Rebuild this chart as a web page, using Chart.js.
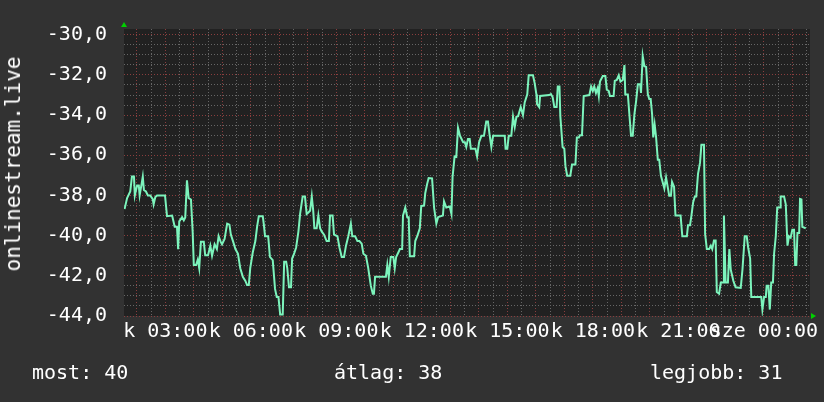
<!DOCTYPE html>
<html>
<head>
<meta charset="utf-8">
<script src="https://cdn.jsdelivr.net/npm/chart.js@4.4.1/dist/chart.umd.min.js"></script>
<style>
    html, body { margin: 0; padding: 0; background: #323232; }
    #wrap { position: relative; width: 824px; height: 402px; background: #323232; overflow: hidden; }
    #graph { position: absolute; left: 0; top: 0; }
    .stat { position: absolute; top: 360px; color: #fff; font-family: 'DejaVu Sans Mono', monospace; font-size: 20px; white-space: pre; }
    #ytitle {
        position: absolute; left: 13px; top: 164px;
        transform: translate(-50%, -50%) rotate(-90deg);
        color: #fff; font-family: 'DejaVu Sans Mono', monospace; font-size: 21px;
        white-space: pre; line-height: 24px;
    }
</style>
</head>
<body>
<div id="wrap">
    <canvas id="graph" width="824" height="402"></canvas>
    <div id="ytitle">onlinestream.live</div>
    <div class="stat" style="left:32px">most: 40</div>
    <div class="stat" style="left:334px">átlag: 38</div>
    <div class="stat" style="left:650px">legjobb: 31</div>
</div>
<script>
// hours since 00:00 on "k" (values past 24 are on "sze")
const times = [
    1.57,1.66,1.77,1.83,1.90,1.93,2.01,2.07,2.10,2.16,2.21,2.25,2.32,2.39,2.47,2.56,
    2.59,2.65,2.71,2.99,3.06,3.24,3.33,3.41,3.45,3.49,3.59,3.65,3.70,3.76,3.82,3.90,
    3.96,4.00,4.08,4.14,4.19,4.25,4.35,4.40,4.50,4.58,4.64,4.73,4.81,4.87,4.94,4.99,
    5.08,5.17,5.25,5.30,5.38,5.46,5.55,5.63,5.72,5.81,5.87,5.93,5.98,6.07,6.16,6.22,
    6.28,6.42,
    6.46,6.50,6.61,6.67,6.77,6.85,6.91,6.97,7.03,7.12,7.17,7.24,7.28,7.34,7.41,7.45,
    7.52,7.59,7.67,7.73,7.82,7.90,7.96,8.02,8.08,8.14,8.19,8.23,8.31,8.37,8.43,8.49,
    8.57,8.66,8.74,8.78,8.87,8.92,9.04,9.11,9.19,9.27,9.34,9.42,9.51,9.56,9.66,9.74,
    9.81,9.89,9.95,10.04,10.12,10.21,10.28,10.32,10.36,10.74,10.79,10.84,10.91,11.00,
    11.05,11.10,11.18,
    11.23,11.31,11.34,11.42,11.49,11.54,11.58,11.73,11.77,11.84,11.93,11.98,12.08,12.12,
    12.19,12.24,12.36,12.43,12.51,12.57,12.74,12.78,12.86,12.98,13.04,13.08,13.15,13.21,
    13.27,13.34,13.45,13.51,13.56,13.62,13.68,13.72,13.88,13.94,14.01,14.09,14.18,14.26,
    14.32,14.38,14.44,14.50,14.91,14.94,15.00,15.05,15.14,15.20,15.26,15.32,15.38,15.47,
    15.55,15.61,15.70,15.75,15.90,15.96,16.02,
    16.04,16.12,16.15,16.47,16.53,16.59,16.65,16.73,16.77,16.83,16.86,16.94,17.00,17.04,
    17.10,17.21,17.27,17.39,17.44,17.51,17.55,17.62,17.68,17.88,17.94,18.00,18.05,18.11,
    18.17,18.21,18.25,18.35,18.44,18.49,18.56,18.60,18.73,18.77,18.84,18.91,18.97,19.05,
    19.11,19.14,19.23,19.28,19.34,19.40,19.46,19.52,19.58,19.66,19.69,19.75,19.81,19.87,
    19.93,19.98,20.03,20.08,20.12,20.17,20.22,20.28,20.33,20.39,20.51,20.57,20.63,20.68,
    20.74,20.78,20.85,20.90,
    21.08,21.14,21.30,21.34,21.41,21.46,21.52,21.58,21.63,21.69,21.76,21.81,21.90,21.94,
    22.00,22.08,22.14,22.19,22.25,22.31,22.35,22.43,22.49,22.58,22.60,22.66,22.74,22.79,
    22.84,22.93,23.01,23.19,23.25,23.33,23.40,23.45,23.52,23.56,23.91,23.95,24.01,24.07,
    24.10,24.16,24.21,24.26,24.32,24.36,24.42,24.47,24.57,24.59,24.71,24.77,24.83,24.88,
    24.94,25.00,25.06,25.10,25.14,25.18,25.24,25.27,25.32,25.35,25.47
];

const values = [
    -38.68,-38.13,-37.8,-37.06,-37.06,-38.0,-37.5,-37.5,-38.0,-37.5,
    -37.06,-37.73,-37.8,-38.0,-38.0,-38.18,-38.44,-38.08,-38.0,-38.0,
    -39.03,-39.0,-39.56,-39.56,-40.67,-39.29,-39.08,-39.24,-39.1,-37.25,
    -38.13,-38.2,-39.8,-41.46,-41.46,-41.19,-41.62,-40.3,-40.3,-40.98,
    -40.98,-40.5,-41.0,-40.43,-40.67,-40.03,-40.3,-40.43,-40.17,-39.4,
    -39.45,-39.95,-40.3,-40.67,-40.9,-41.62,-42.05,-42.25,-42.46,-42.46,
    -41.62,-40.83,-40.27,-39.56,-39.03,-39.03,
    -39.48,-40.03,-40.03,-41.06,-41.22,-42.65,-43.05,-43.05,-43.92,-43.92,
    -41.3,-41.3,-41.62,-42.57,-42.57,-41.14,-40.9,-40.59,-39.8,-38.92,
    -38.05,-38.05,-38.92,-38.85,-38.76,-38.05,-38.76,-39.63,-39.63,-39.0,
    -39.63,-39.8,-39.95,-40.27,-40.27,-39.0,-39.0,-39.95,-40.03,-40.59,
    -41.06,-41.06,-40.5,-40.03,-39.4,-40.03,-40.03,-40.27,-40.27,-40.4,
    -40.9,-41.0,-41.62,-42.49,-42.89,-42.89,-42.05,-42.05,-41.46,-42.05,
    -41.06,-41.06,-41.62,-41.06,-40.83,
    -40.67,-40.67,-39.0,-38.6,-39.08,-39.08,-41.03,-41.03,-40.27,-40.03,
    -39.63,-38.52,-38.5,-37.89,-37.41,-37.13,-37.15,-38.6,-39.4,-39.08,
    -39.0,-38.29,-38.6,-38.55,-38.92,-37.06,-36.06,-36.08,-34.63,-35.03,
    -35.35,-35.35,-35.59,-35.19,-35.19,-35.67,-35.67,-36.06,-35.35,-35.03,
    -35.03,-34.32,-34.32,-35.0,-35.59,-35.03,-35.03,-35.67,-35.67,-35.03,
    -35.03,-34.08,-34.59,-34.08,-34.05,-33.6,-34.0,-33.37,-32.97,-32.02,
    -32.02,-32.41,-32.97,
    -33.44,-33.6,-33.05,-33.0,-32.95,-33.1,-33.6,-33.6,-32.57,-32.57,
    -34.05,-35.59,-35.67,-36.54,-37.02,-37.02,-36.46,-36.46,-35.11,-35.11,
    -35.0,-35.0,-33.05,-33.0,-32.57,-32.8,-32.57,-32.9,-32.65,-33.05,
    -32.33,-32.05,-32.05,-32.73,-32.8,-33.05,-33.05,-32.3,-32.25,-32.02,
    -32.33,-32.25,-31.51,-32.97,-32.97,-33.92,-35.03,-35.03,-33.95,-33.29,
    -32.46,-32.46,-32.9,-31.06,-31.57,-31.6,-32.97,-33.2,-33.2,-33.95,
    -35.11,-34.48,-35.11,-36.22,-36.22,-37.02,-37.65,-37.1,-37.6,-38.02,
    -38.02,-37.33,-37.57,-39.0,
    -39.0,-40.03,-40.03,-39.48,-39.48,-39.0,-38.33,-38.05,-38.05,-36.94,
    -36.38,-35.48,-35.48,-39.92,-40.67,-40.67,-40.5,-40.67,-40.24,-40.24,
    -42.81,-42.89,-42.33,-42.33,-39.0,-42.33,-42.33,-40.67,-41.7,-42.25,
    -42.57,-42.6,-41.7,-40.03,-40.03,-40.59,-41.14,-43.05,-43.05,-43.68,
    -43.05,-43.05,-42.49,-42.49,-43.68,-42.33,-42.33,-40.9,-40.03,-38.6,
    -38.6,-38.05,-38.05,-38.44,-40.5,-40.03,-40.1,-39.71,-39.71,-41.46,
    -41.46,-39.87,-39.87,-38.17,-38.2,-39.56,-39.63
];

const xTickHours = [3, 6, 9, 12, 15, 18, 21, 24];
const xTickLabels = ['k 03:00', 'k 06:00', 'k 09:00', 'k 12:00', 'k 15:00', 'k 18:00', 'k 21:00', 'sze 00:00'];
const yTickValues = [-44, -42, -40, -38, -36, -34, -32, -30];
const yTickLabels = ['-44,0', '-42,0', '-40,0', '-38,0', '-36,0', '-34,0', '-32,0', '-30,0'];

const FONT = "'DejaVu Sans Mono', monospace";
const GRID_MINOR = '#666666';
const GRID_MAJOR = '#8a3e3e';

const points = times.map((t, i) => ({ x: t, y: values[i] }));

function halfSteps(from, to) {
    const out = [];
    for (let v = from; v <= to + 1e-9; v += 0.5) out.push({ value: v });
    return out;
}

const plotBackground = {
    id: 'plotBackground',
    beforeDraw(chart) {
        const { ctx, chartArea: a } = chart;
        ctx.save();
        ctx.fillStyle = '#212121';
        ctx.fillRect(a.left, a.top, a.right - a.left, a.bottom - a.top);
        ctx.restore();
    }
};

const axisArrows = {
    id: 'axisArrows',
    afterDraw(chart) {
        const { ctx, chartArea: a } = chart;
        ctx.save();
        ctx.fillStyle = '#00d000';
        ctx.beginPath();
        ctx.moveTo(a.left - 3, a.top - 2);
        ctx.lineTo(a.left + 3, a.top - 2);
        ctx.lineTo(a.left, a.top - 7);
        ctx.closePath();
        ctx.fill();
        ctx.beginPath();
        ctx.moveTo(a.right + 1, a.bottom - 3);
        ctx.lineTo(a.right + 1, a.bottom + 3);
        ctx.lineTo(a.right + 6, a.bottom);
        ctx.closePath();
        ctx.fill();
        ctx.restore();
    }
};

new Chart(document.getElementById('graph'), {
    type: 'line',
    data: {
        datasets: [{
            label: 'onlinestream.live',
            data: points,
            borderColor: '#7cf4bc',
            borderWidth: 2,
            pointRadius: 0,
            tension: 0,
            fill: false
        }]
    },
    options: {
        responsive: false,
        animation: false,
        events: [],
        layout: { padding: { top: 15, right: 14, bottom: 57, left: 0 } },
        plugins: {
            legend: { display: false },
            tooltip: { enabled: false }
        },
        scales: {
            x: {
                type: 'linear',
                min: 1.551,
                max: 25.62,
                afterBuildTicks: (s) => { s.ticks = halfSteps(2, 25.5); },
                afterFit: (s) => { s.height = 29; },
                grid: {
                    drawTicks: false,
                    lineWidth: 1,
                    color: (c) => Number.isInteger(c.tick.value) ? GRID_MAJOR : GRID_MINOR
                },
                border: { display: false, dash: [1, 2] },
                ticks: {
                    autoSkip: false,
                    maxRotation: 0,
                    padding: 4,
                    color: '#ffffff',
                    font: { family: FONT, size: 20 },
                    callback: (v) => {
                        const i = xTickHours.indexOf(v);
                        return i >= 0 ? xTickLabels[i] : '';
                    }
                }
            },
            y: {
                type: 'linear',
                min: -44,
                max: -29.714,
                afterBuildTicks: (s) => { s.ticks = halfSteps(-44, -30); },
                afterFit: (s) => { s.width = 124; },
                grid: {
                    drawTicks: false,
                    lineWidth: 1,
                    color: (c) => yTickValues.includes(c.tick.value) ? GRID_MAJOR : GRID_MINOR
                },
                border: { display: false, dash: [1, 2] },
                ticks: {
                    autoSkip: false,
                    padding: 17,
                    color: '#ffffff',
                    font: { family: FONT, size: 20 },
                    callback: (v) => {
                        const i = yTickValues.indexOf(v);
                        return i >= 0 ? yTickLabels[i] : '';
                    }
                }
            }
        }
    },
    plugins: [plotBackground, axisArrows]
});
</script>
</body>
</html>
